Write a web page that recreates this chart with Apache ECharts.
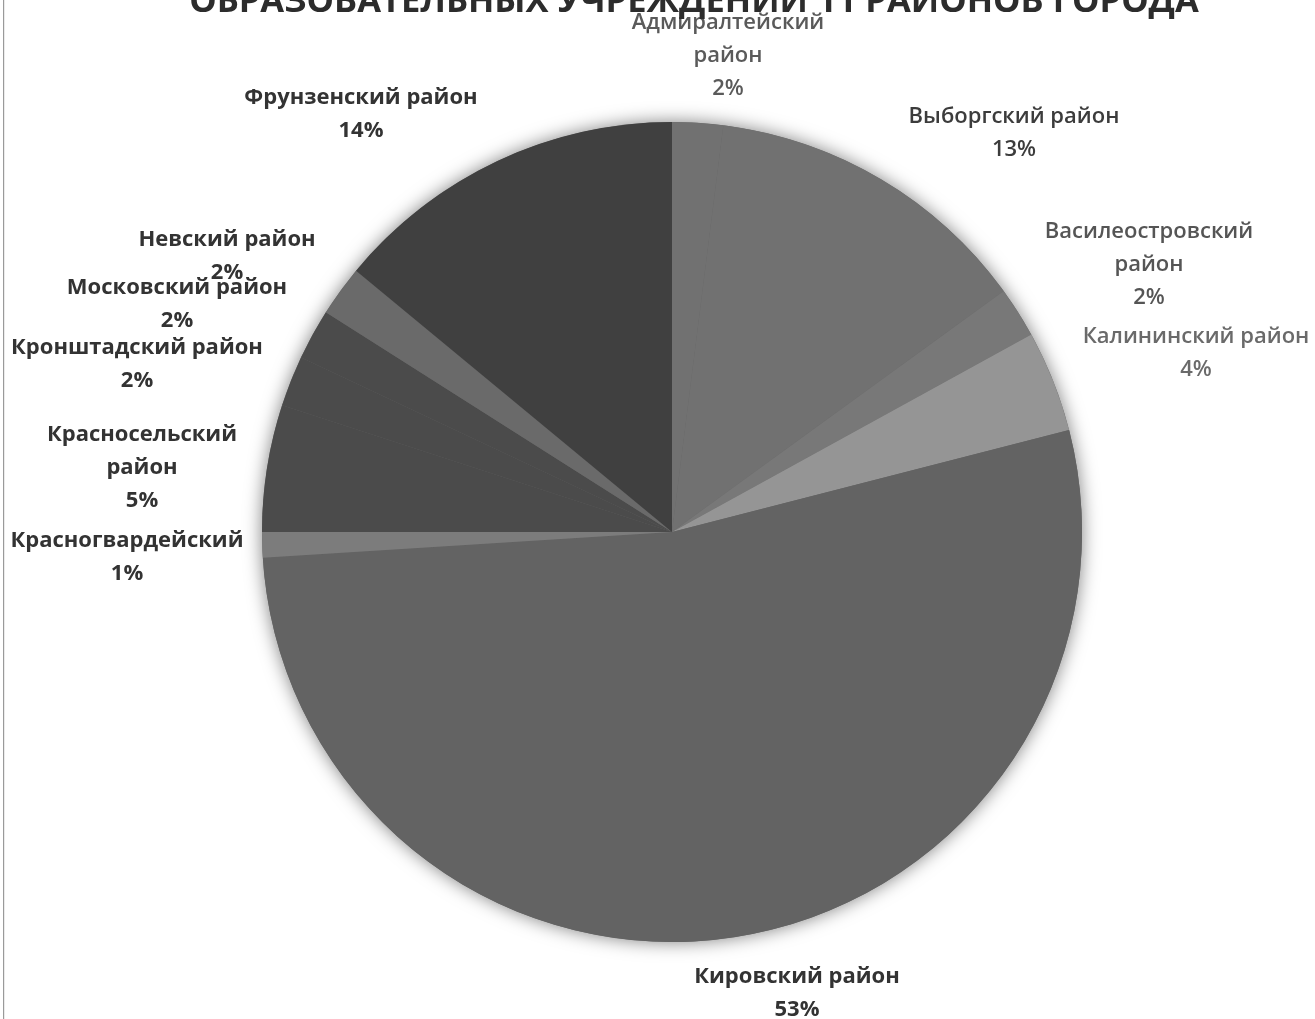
<!DOCTYPE html>
<html>
<head>
<meta charset="utf-8">
<script src="https://cdn.jsdelivr.net/npm/echarts@6/dist/echarts.min.js"></script>
<style>
html,body{margin:0;padding:0;background:#fff;}
#chart{width:1315px;height:1019px;}
</style>
</head>
<body>
<div id="chart"></div>
<script>
const titleText = 'ОБРАЗОВАТЕЛЬНЫХ УЧРЕЖДЕНИЙ 11 РАЙОНОВ ГОРОДА';
const categories = ['Адмиралтейский район', 'Выборгский район', 'Василеостровский район', 'Калининский район', 'Кировский район', 'Красногвардейский', 'Красносельский район', 'Кронштадский район', 'Московский район', 'Невский район', 'Фрунзенский район'];
const values = [2, 13, 2, 4, 53, 1, 5, 2, 2, 2, 14];

// styling / layout (not data)
const sliceColors = ['#717171', '#717171', '#787878', '#959595', '#636363', '#7c7c7c', '#4b4b4b', '#4b4b4b', '#4b4b4b', '#6a6a6a', '#404040'];
const labelColors = ['#5a5a5a', '#3c3c3c', '#555555', '#6a6a6a', '#333', '#333', '#333', '#333', '#333', '#333', '#333'];
const labelWeights = [600, 600, 600, 600, 'bold', 'bold', 'bold', 'bold', 'bold', 'bold', 'bold'];
const wrapped = [0, 2, 6];
const labelAnchors = [[728, 56], [1014, 133], [1149, 265], [1196, 353], [797, 993], [127, 557], [142, 468], [137, 364], [177, 304], [227, 256], [361, 114]];
const CX = 672, CY = 532, R = 410;

const total = values.reduce((a, b) => a + b, 0);
const chart = echarts.init(document.getElementById('chart'));
chart.setOption({
  backgroundColor: '#fff',
  animation: false,
  title: {
    text: titleText,
    left: 689, textAlign: 'center',
    top: -20,
    textStyle: {fontFamily: 'Open Sans', fontSize: 34.5, fontWeight: 'bold', color: '#2c2c2c'}
  },
  graphic: [{type: 'rect', shape: {x: 3, y: 0, width: 1.2, height: 1019}, style: {fill: '#9a9a9a'}, silent: true}],
  series: [
    {
      type: 'pie', silent: true, center: [CX, CY], radius: R, z: 1,
      label: {show: false}, labelLine: {show: false},
      itemStyle: {color: '#666', shadowBlur: 18, shadowColor: 'rgba(0,0,0,0.5)'},
      data: [{value: total, name: ''}]
    },
    {
      type: 'pie', center: [CX, CY], radius: R, z: 2,
      startAngle: 90, clockwise: true,
      avoidLabelOverlap: false,
      itemStyle: {borderWidth: 0},
      labelLine: {show: false},
      label: {
        show: true, position: 'outside',
        fontFamily: 'Open Sans', fontSize: 22, lineHeight: 33,
        formatter: function (p) {
          const n = wrapped.includes(p.dataIndex) ? p.name.replace(' ', '\n') : p.name;
          return n + '\n' + Math.round(p.percent) + '%';
        }
      },
      labelLayout: function (p) {
        const a = labelAnchors[p.dataIndex];
        return {x: a[0], y: a[1], align: 'center', verticalAlign: 'middle'};
      },
      data: categories.map((c, i) => ({
        name: c, value: values[i],
        itemStyle: {color: sliceColors[i]},
        label: {color: labelColors[i], fontWeight: labelWeights[i]}
      }))
    }
  ]
});
</script>
</body>
</html>
